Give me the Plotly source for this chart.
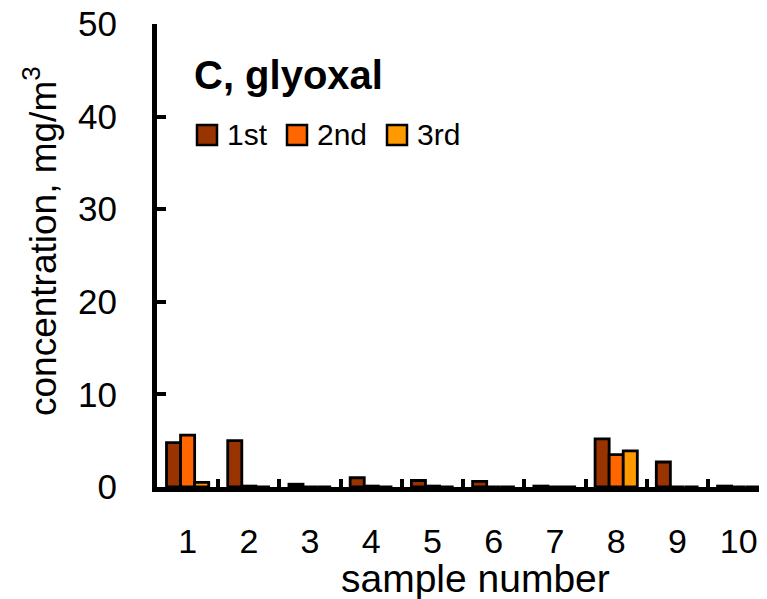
import plotly.graph_objects as go

categories = ["1", "2", "3", "4", "5", "6", "7", "8", "9", "10"]
first = [4.8, 5.0, 0.3, 1.0, 0.7, 0.6, 0.1, 5.2, 2.7, 0.1]
second = [5.6, 0.1, 0.0, 0.1, 0.1, 0.0, 0.0, 3.5, 0.0, 0.0]
third = [0.5, 0.0, 0.0, 0.0, 0.0, 0.0, 0.0, 3.9, 0.0, 0.0]
series_names = ["1st", "2nd", "3rd"]
series_colors = ["#993300", "#FF6600", "#FF9900"]
y_ticks = [0, 10, 20, 30, 40, 50]

FONT = "Liberation Sans, Arial, sans-serif"

# page offset of the figure (default body margin of the page)
OFF = 8
# plot area in page pixels
L, R, T, B = 157, 767, 24, 487
W, H = 767 - OFF, 599 - OFF

def px(x):
    return (x - L) / (R - L)
def py(y):
    return (B - y) / (B - T)

fig = go.Figure()
for name, vals, col in zip(series_names, [first, second, third], series_colors):
    fig.add_trace(go.Bar(
        x=categories, y=vals, name=name, showlegend=False,
        marker=dict(color=col, line=dict(color="black", width=2.8)),
    ))

# legend drawn as paper-positioned swatches
legend_sw_x = [197, 287, 387]
shapes = []
annotations = []
for name, col, sx in zip(series_names, series_colors, legend_sw_x):
    shapes.append(dict(type="rect", xref="paper", yref="paper",
                       x0=px(sx), x1=px(sx + 20), y0=py(145), y1=py(125),
                       fillcolor=col, line=dict(color="black", width=2.5)))
    annotations.append(dict(text=name, xref="paper", yref="paper", x=px(sx + 28), y=py(135),
                            xanchor="left", yanchor="middle", showarrow=False,
                            font=dict(size=30)))

annotations += [
    dict(text="<b>C, glyoxal</b>", xref="paper", yref="paper", x=px(192), y=py(75),
         xanchor="left", yanchor="middle", showarrow=False, font=dict(size=40)),
    dict(text="sample number", xref="paper", yref="paper", x=px(475), y=py(578),
         xanchor="center", yanchor="middle", showarrow=False, font=dict(size=39)),
    dict(text="concentration, mg/m<sup>3</sup>", xref="paper", yref="paper",
         x=px(40), y=py(241), xanchor="center", yanchor="middle", textangle=-90,
         showarrow=False, font=dict(size=37)),
]

fig.update_layout(
    width=W, height=H,
    margin=dict(l=L - OFF, r=767 - R, t=T - OFF, b=599 - B, autoexpand=False),
    paper_bgcolor="white", plot_bgcolor="white",
    barmode="group", bargap=0.31, bargroupgap=0,
    font=dict(family=FONT, size=34, color="black"),
    showlegend=False,
    xaxis=dict(
        type="category", range=[-0.5, 9.463], automargin=False,
        showline=True, linecolor="black", linewidth=5,
        ticks="inside", tickson="boundaries", ticklen=8, tickwidth=4, tickcolor="black",
        tickfont=dict(size=34), ticklabelstandoff=20, ticklabeloverflow="allow",
        showgrid=False, zeroline=False,
    ),
    yaxis=dict(
        range=[0, 50], tickvals=y_ticks, automargin=False,
        showline=True, linecolor="black", linewidth=5,
        ticks="inside", ticklen=9, tickwidth=4, tickcolor="black",
        tickfont=dict(size=35), ticklabelstandoff=28, ticklabeloverflow="allow",
        showgrid=False, zeroline=False,
    ),
    shapes=shapes,
    annotations=annotations,
)

fig.write_html("out.html")
